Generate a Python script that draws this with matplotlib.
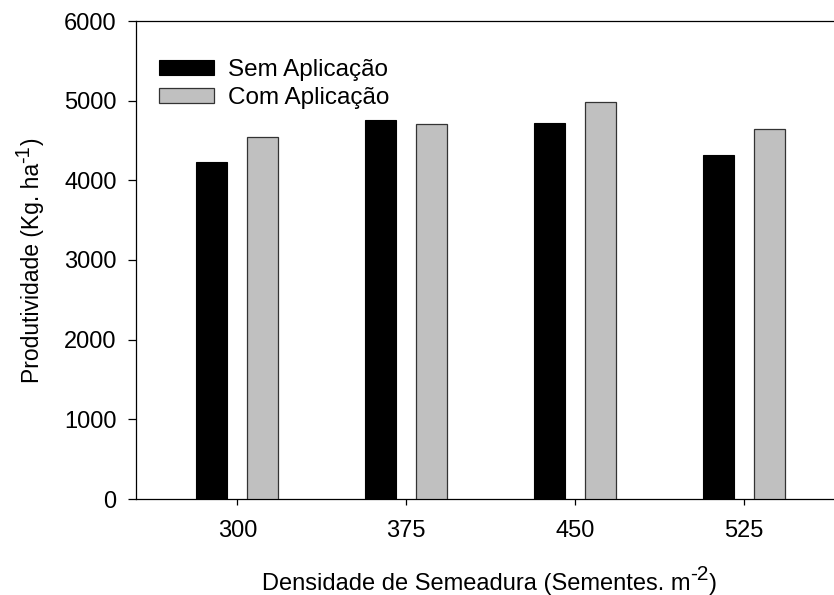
import matplotlib
matplotlib.use("Agg")
import matplotlib.pyplot as plt
import numpy as np

plt.rcParams['font.family'] = ['Liberation Sans', 'DejaVu Sans']

densidades = [300, 375, 450, 525]
tick_labels = ["300", "375", "450", "525"]
sem_aplicacao = [4225, 4753, 4722, 4317]
com_aplicacao = [4547, 4702, 4979, 4640]
y_ticks = [0, 1000, 2000, 3000, 4000, 5000, 6000]

fig = plt.figure(figsize=(8.34, 5.95), dpi=100)
W, H = 834, 595
left_px, right_px, top_px, bot_px = 136, 842, 21, 499
ax = fig.add_axes([left_px / W, 1 - bot_px / H, (right_px - left_px) / W, (bot_px - top_px) / H])

x = np.array(densidades, dtype=float)
width = 13.8
off = 11.3
ax.bar(x - off, sem_aplicacao, width, color='black', edgecolor='black', linewidth=0.8,
       label='Sem Aplicação', zorder=3)
ax.bar(x + off, com_aplicacao, width, color='#c0c0c0', edgecolor='#333333', linewidth=0.9,
       label='Com Aplicação', zorder=3)

ax.set_xlim(255.0, 255.0 + (right_px - left_px) / 2.2507)
ax.set_ylim(0, 6000)
ax.set_xticks(densidades)
ax.set_xticklabels(tick_labels)
ax.set_yticks(y_ticks)
ax.spines['right'].set_visible(False)
for s in ['left', 'top', 'bottom']:
    ax.spines[s].set_linewidth(0.9)
ax.tick_params(axis='y', direction='out', length=6, width=0.9, pad=8, labelsize=17)
ax.tick_params(axis='x', direction='out', length=4.5, width=0.9, pad=10.5, labelsize=17)

leg = ax.legend(loc='upper left', bbox_to_anchor=(154 / W, 1 - 54 / H),
                bbox_transform=fig.transFigure, frameon=False, fontsize=17.5,
                handlelength=2.26, handleheight=0.555, handletextpad=0.58,
                labelspacing=0.26, borderpad=0.2, borderaxespad=0)

# Axis titles with hyphen superscripts, composed from pieces
fig.canvas.draw()
renderer = fig.canvas.get_renderer()

# X label
xs = 17
xparts = [("Densidade de Semeadura (Sementes. m", xs, 0), ("-2", xs * 0.88, 10), (")", xs, 0)]
base_y = 1 - 590 / H
objs = []
for txt, fs, rise in xparts:
    t = fig.text(0, base_y + rise / H, txt, fontsize=fs, ha='left', va='baseline')
    objs.append(t)
widths = [t.get_window_extent(renderer).width for t in objs]
total = sum(widths)
cx = (left_px + right_px) / 2
xpos = cx - total / 2
for t, w in zip(objs, widths):
    t.set_x(xpos / W)
    xpos += w

# Y label (rotated)
ys = 16.5
yparts = [("Produtividade (Kg. ha", ys, 0), ("-1", ys * 0.88, 10), (")", ys, 0)]
base_x = 39
objs = []
for txt, fs, rise in yparts:
    t = fig.text((base_x - rise) / W, 0, txt, fontsize=fs, rotation=90,
                 rotation_mode='anchor', ha='left', va='baseline')
    objs.append(t)
lens = [t.get_window_extent(renderer).height for t in objs]
total = sum(lens)
cy = H - (top_px + bot_px) / 2  # in pixels from bottom
ypos = cy - total / 2
for t, l in zip(objs, lens):
    t.set_y(ypos / H)
    ypos += l

fig.savefig('out.png', dpi=100)
